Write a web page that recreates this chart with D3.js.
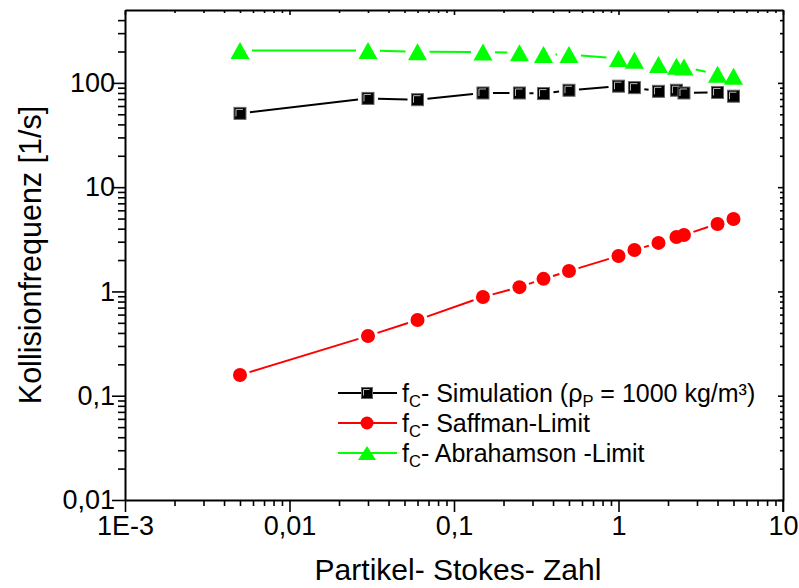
<!DOCTYPE html>
<html>
<head>
<meta charset="utf-8">
<script src="https://cdn.jsdelivr.net/npm/d3@7"></script>
<style>
  html, body { margin: 0; padding: 0; background: #fff; }
  svg { display: block; }
  text { font-family: "Liberation Sans", Arial, sans-serif; fill: #000; }
</style>
</head>
<body>
<svg id="chart" width="799" height="588"></svg>
<script>
// ---- data ----
const stokes = [0.005, 0.03, 0.06, 0.15, 0.25, 0.35, 0.5, 1, 1.25, 1.75, 2.25, 2.5, 4, 5];
const simulation = [51, 71, 69, 80, 80, 79, 85, 93, 90, 83, 85, 80, 81, 74.5];
const saffman = [0.158, 0.374, 0.533, 0.885, 1.10, 1.32, 1.57, 2.19, 2.50, 2.92, 3.33, 3.48, 4.44, 4.95];
const abrahamson = [205, 205, 199, 198, 195, 187, 187, 171, 165, 150, 144, 142, 121, 116];
const xTickValues = [0.001, 0.01, 0.1, 1, 10];
const xTickLabels = ["1E-3", "0,01", "0,1", "1", "10"];
const yTickValues = [0.01, 0.1, 1, 10, 100];
const yTickLabels = ["0,01", "0,1", "1", "10", "100"];
const xTitle = "Partikel- Stokes- Zahl";
const yTitle = "Kollisionfrequenz [1/s]";

// ---- layout ----
const svg = d3.select("#chart");
const L = 125, R = 783, T = 10, B = 500;
const x = d3.scaleLog().domain([0.001, 10]).range([L, R]);
const y = d3.scaleLog().domain([0.01, 500]).range([B, T]);
const FONT = "'Liberation Sans', Arial, sans-serif";

function minorTicks(scale) {
  const [a, b] = scale.domain();
  const out = [];
  for (let e = Math.floor(Math.log10(a)); e <= Math.ceil(Math.log10(b)); e++) {
    for (let k = 2; k <= 9; k++) {
      const v = k * Math.pow(10, e);
      if (v > a * 1.0001 && v < b * 0.9999) out.push(v);
    }
  }
  return out;
}
const fmtX = v => xTickLabels[xTickValues.indexOf(v)];
const fmtY = v => yTickLabels[yTickValues.indexOf(v)];

const axStroke = g => {
  g.selectAll("path.domain").attr("stroke", "#000").attr("stroke-width", 2);
  g.selectAll(".tick line").attr("stroke", "#000").attr("stroke-width", 1.6);
};

// bottom
const gB = svg.append("g").attr("transform", `translate(0,${B})`);
gB.call(d3.axisBottom(x).tickValues(minorTicks(x)).tickSize(6).tickSizeOuter(0).tickFormat(""));
gB.append("g").call(d3.axisBottom(x).tickValues(xTickValues).tickSize(12).tickSizeOuter(0).tickFormat(fmtX))
  .call(g => g.select("path.domain").remove())
  .selectAll("text").attr("font-size", 27).attr("dy", "0.72em").attr("y", 16)
  .style("font-family", FONT).attr("fill", "#000");
gB.call(axStroke);

// top
const gT = svg.append("g").attr("transform", `translate(0,${T})`);
gT.call(d3.axisBottom(x).tickValues(minorTicks(x)).tickSize(3).tickSizeOuter(0).tickFormat(""));
gT.append("g").call(d3.axisBottom(x).tickValues(xTickValues).tickSize(5).tickSizeOuter(0).tickFormat(""))
  .call(g => g.select("path.domain").remove());
gT.call(axStroke);

// left
const gL = svg.append("g").attr("transform", `translate(${L},0)`);
gL.call(d3.axisLeft(y).tickValues(minorTicks(y)).tickSize(7).tickSizeOuter(0).tickFormat(""));
gL.append("g").call(d3.axisLeft(y).tickValues(yTickValues).tickSize(13).tickSizeOuter(0).tickFormat(fmtY))
  .call(g => g.select("path.domain").remove())
  .selectAll("text").attr("font-size", 27).attr("x", -10)
  .style("font-family", FONT).attr("fill", "#000");
gL.call(axStroke);

// right
const gR = svg.append("g").attr("transform", `translate(${R},0)`);
gR.call(d3.axisRight(y).tickValues(minorTicks(y)).tickSize(-3).tickSizeOuter(0).tickFormat(""));
gR.append("g").call(d3.axisRight(y).tickValues(yTickValues).tickSize(-5).tickSizeOuter(0).tickFormat(""))
  .call(g => g.select("path.domain").remove());
gR.call(axStroke);
gR.append("line").attr("x1", 0).attr("x2", 0).attr("y1", B).attr("y2", B + 12).attr("stroke", "#000").attr("stroke-width", 1.6);

// titles
svg.append("text").attr("x", 458).attr("y", 580).attr("text-anchor", "middle")
  .attr("font-size", 30).text(xTitle);
svg.append("text").attr("transform", `translate(41,${(T + B) / 2}) rotate(-90)`).attr("text-anchor", "middle")
  .attr("font-size", 30.5).text(yTitle);

// ---- series ----
function drawSegments(vals, color, gap) {
  const pts = stokes.map((s, i) => [x(s), y(vals[i])]);
  const g = svg.append("g");
  for (let i = 0; i < pts.length - 1; i++) {
    const [x1, y1] = pts[i], [x2, y2] = pts[i + 1];
    const dx = x2 - x1, dy = y2 - y1, d = Math.hypot(dx, dy);
    if (d <= 2 * gap + 1) continue;
    const ux = dx / d, uy = dy / d;
    g.append("line")
      .attr("x1", x1 + ux * gap).attr("y1", y1 + uy * gap)
      .attr("x2", x2 - ux * gap).attr("y2", y2 - uy * gap)
      .attr("stroke", color).attr("stroke-width", 2);
  }
}
function square(g, cx, cy, s) {
  g.append("rect").attr("x", cx - s / 2).attr("y", cy - s / 2).attr("width", s).attr("height", s)
    .attr("fill", "#000").attr("stroke", "#666").attr("stroke-width", 1);
  g.append("path").attr("d", `M${cx - s / 2 + 2},${cy + s / 2 - 3}V${cy - s / 2 + 2}H${cx + s / 2 - 3}`)
    .attr("fill", "none").attr("stroke", "#bbb").attr("stroke-width", 1);
}
function circle(g, cx, cy, r) {
  g.append("circle").attr("cx", cx).attr("cy", cy).attr("r", r).attr("fill", "#ff0000");
}
function triangle(g, cx, cy, w, h) {
  g.append("path").attr("d", `M${cx},${cy - h / 2}L${cx + w / 2},${cy + h / 2}L${cx - w / 2},${cy + h / 2}Z`)
    .attr("fill", "#00ff00");
}

drawSegments(abrahamson, "#00ff00", 12);
drawSegments(simulation, "#000000", 10);
drawSegments(saffman, "#ff0000", 10);

const gTri = svg.append("g");
stokes.forEach((s, i) => triangle(gTri, x(s), y(abrahamson[i]), 19, 17));
const gSq = svg.append("g");
stokes.forEach((s, i) => square(gSq, x(s), y(simulation[i]), 12));
const gCi = svg.append("g");
stokes.forEach((s, i) => circle(gCi, x(s), y(saffman[i]), 7));

// ---- legend ----
const legendItems = [
  { color: "#000000", sym: "square", parts: [["f", 0], ["C", 1], ["- Simulation (ρ", 0], ["P", 1], [" = 1000 kg/m³)", 0]] },
  { color: "#ff0000", sym: "circle", parts: [["f", 0], ["C", 1], ["- Saffman-Limit", 0]] },
  { color: "#00ff00", sym: "triangle", parts: [["f", 0], ["C", 1], ["- Abrahamson -Limit", 0]] }
];
const lg = svg.append("g");
legendItems.forEach((it, i) => {
  const cy = 393 + i * 30;
  lg.append("line").attr("x1", 338).attr("x2", 397).attr("y1", cy).attr("y2", cy)
    .attr("stroke", it.color).attr("stroke-width", 2);
  if (it.sym === "square") square(lg, 367, cy, 11);
  if (it.sym === "circle") circle(lg, 367, cy, 6.5);
  if (it.sym === "triangle") triangle(lg, 367, cy, 18, 14);
  const t = lg.append("text").attr("x", 402).attr("y", cy + 9).attr("font-size", 25);
  let wasSub = false;
  it.parts.forEach(([s, sub]) => {
    const ts = t.append("tspan").text(s);
    if (sub) { ts.attr("font-size", 16.5).attr("dy", 5); wasSub = true; }
    else { ts.attr("dy", wasSub ? -5 : 0); wasSub = false; }
  });
});
</script>
</body>
</html>
